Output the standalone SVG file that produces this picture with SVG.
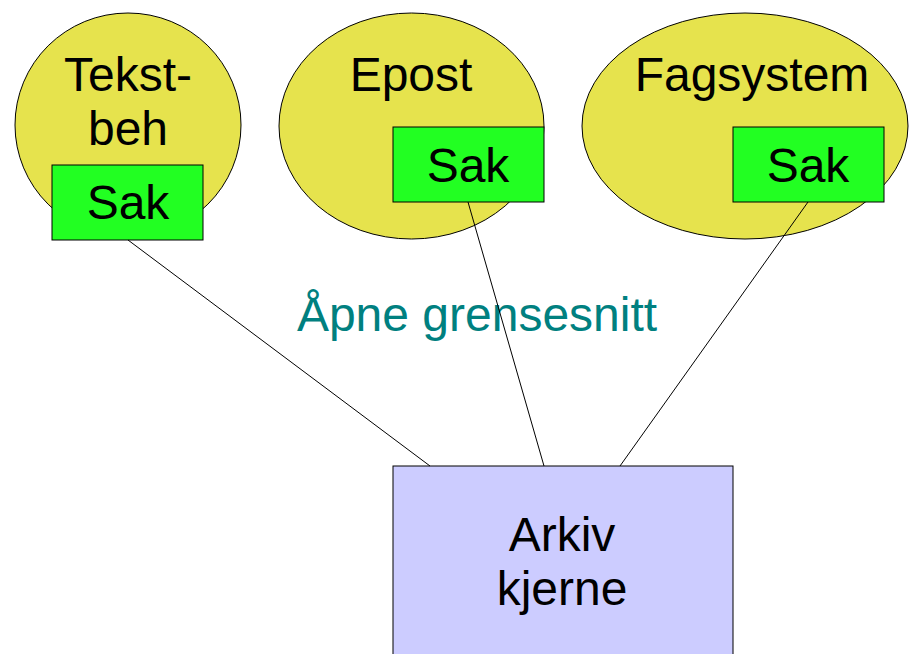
<svg xmlns="http://www.w3.org/2000/svg" width="909" height="654" viewBox="0 0 909 654">
<style>
.ell{fill:#e6e34d;stroke:#000;stroke-width:1}
.sak{fill:#22ff22;stroke:#000;stroke-width:1}
.core{fill:#ccccff;stroke:#000;stroke-width:1}
.t{font-family:"Liberation Sans",Arial,sans-serif;font-size:48px;fill:#000;text-anchor:middle}
.conn line{stroke:#000;stroke-width:1}
</style>
<rect width="909" height="654" fill="#fff"/>
<g id="tekstbeh">
<ellipse class="ell" cx="128" cy="125" rx="113" ry="112"/>
<text class="t" x="128" y="91">Tekst-</text>
<text class="t" x="128" y="145">beh</text>
</g>
<g id="sak1">
<rect class="sak" x="52" y="165" width="151" height="75"/>
<text class="t" x="128" y="219">Sak</text>
</g>
<g id="epost">
<ellipse class="ell" cx="411.5" cy="126" rx="132.5" ry="113"/>
<text class="t" x="411" y="91">Epost</text>
</g>
<g id="sak2">
<rect class="sak" x="393" y="127" width="151" height="75"/>
<text class="t" x="468" y="182">Sak</text>
</g>
<g id="fagsystem">
<ellipse class="ell" cx="745" cy="126" rx="163" ry="113"/>
<text class="t" x="752" y="91">Fagsystem</text>
</g>
<g id="sak3">
<rect class="sak" x="733" y="127" width="151" height="75"/>
<text class="t" x="808" y="182">Sak</text>
</g>
<g id="label">
<text class="t" x="477" y="331" style="fill:#008080">Åpne grensesnitt</text>
</g>
<g id="arkiv">
<rect class="core" x="393" y="466" width="340" height="200"/>
<text class="t" x="562" y="551">Arkiv</text>
<text class="t" x="562" y="605">kjerne</text>
</g>
<g class="conn" id="connectors">
<line x1="128" y1="240" x2="430" y2="466"/>
<line x1="468" y1="202" x2="544" y2="466"/>
<line x1="808" y1="202" x2="620" y2="466"/>
</g>
</svg>
